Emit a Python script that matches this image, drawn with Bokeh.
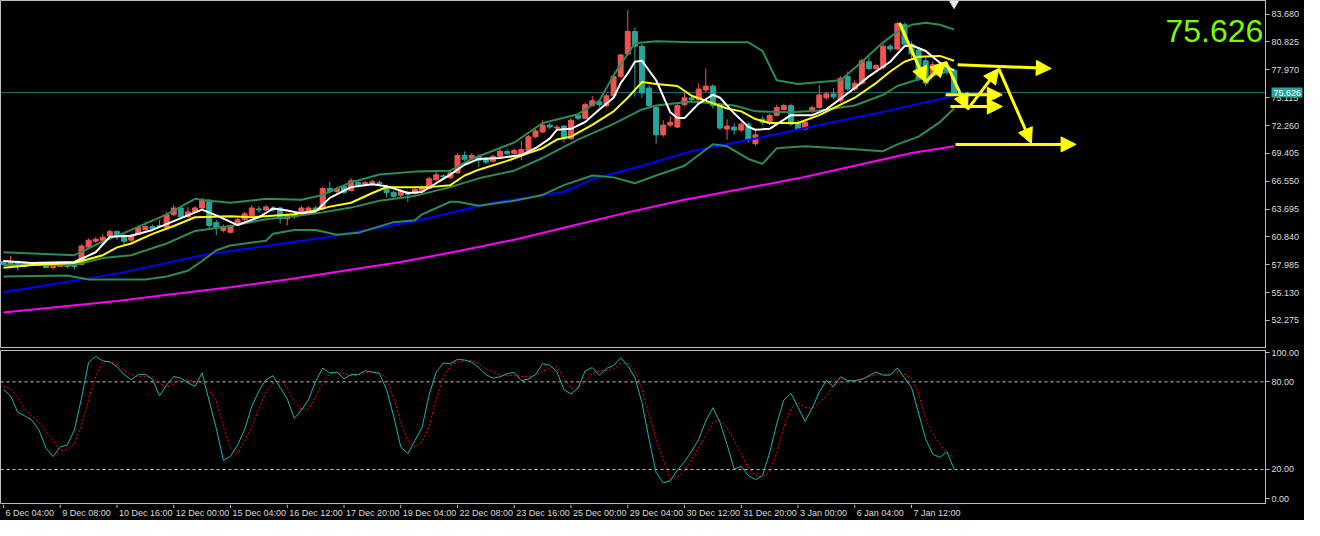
import numpy as np
from bokeh.plotting import figure
from bokeh.models import (Range1d, FixedTicker, NumeralTickFormatter, Span, Label,
                          Arrow, NormalHead, ColumnDataSource, LinearAxis)
from bokeh.layouts import column
from bokeh.embed import file_html
from bokeh.resources import INLINE
from bokeh.core.properties import value

# ---------------- data (H4 bars, index 0..134) ----------------
open_ = [58.3, 58.0, 58.3, 57.8, 58.1, 57.9, 58.1, 57.7, 57.8, 58.0,
         57.9, 58.0, 59.8, 60.4, 60.5, 60.9, 61.4, 61.0, 60.5, 61.1,
         61.6, 61.9, 62.0, 61.8, 63.1, 63.8, 62.9, 63.4, 63.8, 64.6,
         62.3, 61.5, 61.3, 62.1, 62.6, 63.0, 63.7, 63.6, 63.8, 63.8,
         62.7, 63.1, 63.3, 63.5, 63.8, 63.8, 65.8, 65.5, 66.0, 65.6,
         66.4, 66.2, 66.3, 66.4, 66.0, 65.4, 65.1, 65.4, 65.3, 65.6,
         65.8, 66.7, 67.1, 66.9, 67.4, 69.2, 68.9, 69.1, 68.9, 68.6,
         69.1, 69.6, 69.4, 69.3, 69.6, 71.1, 71.6, 72.3, 72.0, 72.2,
         70.9, 73.3, 73.0, 74.3, 74.7, 74.3, 75.3, 77.3, 79.6, 81.9,
         80.4, 76.1, 74.1, 71.3, 72.3, 72.1, 74.4, 75.1, 74.9, 75.9,
         76.3, 74.3, 71.9, 72.1, 71.8, 72.4, 70.4, 72.9, 72.5, 73.3,
         73.9, 74.3, 72.6, 71.9, 73.7, 74.1, 75.1, 75.5, 74.8, 77.3,
         76.0, 76.6, 78.8, 78.1, 78.2, 80.4, 80.1, 82.6, 80.6, 80.0,
         78.9, 77.4, 77.7, 78.3, 77.9]
high = [58.5, 58.9, 58.4, 58.2, 58.3, 58.3, 58.2, 57.9, 58.1, 58.1,
        58.1, 60.1, 60.7, 60.8, 61.1, 61.6, 61.5, 61.1, 61.1, 62.0,
        62.4, 62.1, 62.6, 63.4, 64.1, 63.9, 63.9, 64.0, 64.8, 64.7,
        62.6, 62.1, 62.1, 62.8, 63.4, 64.1, 64.0, 64.1, 64.0, 63.9,
        63.2, 63.3, 64.0, 64.0, 64.0, 66.0, 66.5, 66.0, 66.1, 66.9,
        66.6, 66.6, 66.7, 66.6, 66.2, 65.6, 65.7, 65.6, 65.9, 66.1,
        67.0, 67.6, 67.3, 67.6, 69.4, 69.6, 69.4, 69.3, 69.0, 69.3,
        69.9, 69.8, 69.9, 70.7, 71.3, 71.9, 72.8, 72.5, 72.3, 72.3,
        73.0, 73.5, 74.6, 75.3, 74.9, 75.5, 77.5, 79.6, 84.1, 82.3,
        80.6, 76.4, 74.4, 72.8, 73.2, 74.5, 75.6, 75.4, 76.6, 78.1,
        76.5, 74.5, 72.9, 72.5, 72.6, 72.6, 71.8, 73.2, 73.5, 74.4,
        74.5, 74.5, 72.8, 72.8, 74.3, 76.4, 75.7, 76.1, 77.3, 77.8,
        76.9, 79.1, 79.6, 78.6, 80.8, 80.6, 82.9, 82.8, 80.9, 80.2,
        79.2, 78.8, 78.6, 78.5, 78.1]
low = [57.9, 57.9, 57.4, 57.7, 57.9, 57.8, 57.6, 57.5, 57.7, 57.6,
       57.5, 57.9, 59.6, 60.2, 60.4, 60.8, 60.5, 60.0, 60.3, 61.0,
       61.5, 61.5, 61.8, 61.6, 63.0, 62.8, 62.8, 63.3, 63.7, 61.7,
       61.0, 61.3, 61.2, 62.0, 62.5, 62.9, 63.3, 63.5, 63.4, 62.2,
       62.0, 62.7, 63.2, 63.4, 63.4, 63.6, 65.3, 65.3, 65.2, 65.5,
       65.9, 66.0, 66.1, 66.1, 64.9, 64.8, 64.9, 64.4, 65.1, 65.5,
       65.7, 66.6, 66.8, 66.8, 67.3, 68.6, 68.7, 68.0, 68.3, 68.5,
       69.0, 69.2, 69.3, 68.7, 69.5, 71.0, 71.5, 71.9, 71.8, 70.5,
       70.8, 72.8, 72.9, 74.2, 74.1, 74.1, 75.2, 77.1, 79.4, 75.2,
       75.1, 74.0, 70.4, 71.1, 72.1, 72.0, 74.2, 74.6, 74.8, 75.7,
       74.0, 71.8, 70.8, 71.3, 71.6, 70.5, 70.2, 72.3, 72.3, 73.2,
       73.8, 72.2, 71.7, 71.8, 73.5, 74.0, 74.9, 75.0, 74.6, 75.8,
       75.8, 76.4, 77.9, 77.9, 78.0, 79.8, 80.0, 80.3, 79.2, 76.8,
       76.3, 77.2, 77.5, 77.5, 75.4]
close = [58.0, 58.3, 57.8, 58.1, 58.0, 58.1, 57.7, 57.8, 58.0, 57.8,
         57.8, 59.9, 60.5, 60.6, 60.8, 61.4, 60.9, 60.4, 61.0, 61.8,
         61.9, 61.7, 61.9, 63.1, 63.8, 62.9, 63.4, 63.8, 64.6, 62.0,
         61.8, 61.9, 62.0, 62.6, 63.2, 63.8, 63.6, 63.9, 63.6, 62.7,
         63.0, 62.9, 63.8, 63.8, 63.6, 65.8, 65.5, 65.8, 65.4, 66.6,
         66.1, 66.4, 66.5, 66.3, 65.4, 65.0, 65.5, 65.2, 65.7, 65.9,
         66.8, 67.2, 67.0, 67.4, 69.2, 68.8, 69.2, 68.7, 68.5, 69.1,
         69.6, 69.4, 69.7, 69.8, 71.1, 71.7, 72.3, 72.1, 72.1, 70.9,
         72.8, 73.0, 74.4, 74.8, 74.4, 75.3, 77.3, 79.5, 81.9, 80.4,
         75.6, 74.3, 71.3, 72.3, 72.6, 74.3, 75.1, 74.9, 76.0, 76.3,
         74.3, 72.0, 72.2, 71.8, 72.4, 70.8, 71.3, 72.6, 73.3, 74.1,
         74.3, 72.4, 71.9, 72.6, 74.1, 75.4, 75.5, 75.2, 77.1, 76.0,
         76.6, 78.9, 78.1, 78.4, 80.4, 80.1, 82.7, 80.6, 79.6, 77.0,
         76.6, 78.5, 78.3, 77.8, 75.626]

# moving averages / bands (bar index, price)
white_i = [0, 4, 10, 13, 15, 18, 21, 24, 28, 30, 33, 36, 38, 40, 42, 44, 46, 49, 52, 54,
           57, 59, 61, 63, 65, 67, 70, 73, 75, 77, 78, 80, 82, 84, 86, 87, 88, 89, 90, 92,
           94, 95, 96, 98, 100, 101, 103, 105, 106, 108, 111, 114, 116, 120, 122, 125, 127,
           128, 130, 132, 134]
white_v = [58.36, 58.16, 58.26, 59.26, 60.85, 60.95, 61.55, 62.45, 63.64, 63.05,
           62.05, 62.85, 63.74, 63.55, 63.25, 63.45, 64.84, 65.94, 66.24, 66.04,
           65.34, 65.44, 66.34, 67.23, 68.23, 68.83, 68.93, 69.23, 69.93, 70.92,
           71.82, 71.92, 72.62, 73.91, 75.11, 76.61, 77.60, 78.80, 78.90, 76.90,
           73.61, 73.02, 73.02, 74.51, 75.41, 75.11, 73.51, 72.12, 71.82, 71.92,
           73.32, 73.32, 73.91, 76.11, 77.30, 78.80, 80.39, 80.49, 79.90, 78.70, 77.90]
yellow_i = [0, 4, 10, 14, 16, 18, 21, 24, 27, 32, 35, 41, 44, 46, 49, 52, 54, 60, 63, 65,
            67, 71, 74, 76, 78, 80, 83, 86, 88, 90, 92, 95, 97, 99, 102, 104, 106, 108,
            112, 115, 120, 123, 125, 127, 129, 132, 134]
yellow_v = [57.66, 57.96, 58.16, 58.96, 59.76, 60.16, 61.15, 61.95, 62.85, 62.95,
            62.85, 63.15, 63.55, 63.94, 64.34, 65.34, 65.94, 65.94, 66.14, 67.13,
            67.73, 68.63, 69.43, 69.93, 70.82, 71.12, 72.32, 73.71, 75.11, 76.71,
            76.51, 76.31, 75.31, 74.81, 74.01, 73.71, 72.92, 72.52, 72.52, 73.32,
            75.11, 76.61, 77.80, 78.80, 79.30, 79.40, 78.90]
bb_up_i = [0, 10, 14, 18, 23, 27, 29, 32, 37, 42, 45, 49, 53, 58, 63, 66, 72, 76, 81, 84,
           86, 89, 92, 97, 105, 107, 109, 112, 118, 121, 124, 126, 128, 130, 132, 134]
bb_up_v = [59.26, 58.96, 60.35, 61.55, 63.15, 64.74, 64.54, 64.34, 64.74, 64.64,
           65.14, 66.44, 67.23, 67.53, 67.63, 68.83, 70.52, 72.52, 73.42, 74.81,
           77.40, 80.69, 80.89, 80.79, 80.79, 79.90, 76.90, 76.51, 76.90, 78.80,
           80.79, 81.89, 82.59, 82.79, 82.59, 82.09]
bb_mid_i = [0, 10, 14, 18, 23, 27, 32, 37, 41, 45, 49, 53, 58, 63, 67, 72, 76, 81, 86, 90,
            92, 97, 103, 106, 111, 115, 120, 124, 126, 129, 132, 134]
bb_mid_v = [57.96, 57.96, 58.66, 58.96, 60.16, 61.45, 61.95, 62.65, 62.95, 63.35,
            63.84, 64.54, 65.04, 65.94, 66.84, 67.63, 68.93, 70.82, 72.42, 73.91,
            74.31, 74.71, 74.31, 73.71, 73.61, 73.81, 74.31, 75.41, 76.31, 77.00,
            77.60, 77.90]
bb_low_i = [0, 9, 12, 20, 23, 26, 28, 30, 32, 37, 38, 41, 44, 47, 50, 55, 58, 59, 63, 64,
            67, 72, 76, 79, 83, 86, 89, 92, 96, 100, 102, 105, 107, 109, 113, 120, 124,
            126, 129, 132, 134]
bb_low_v = [56.77, 56.87, 56.47, 56.47, 56.77, 57.36, 58.36, 59.46, 59.96, 60.45,
            61.15, 61.55, 61.55, 61.05, 61.25, 62.35, 62.55, 63.15, 64.44, 64.44,
            64.04, 64.54, 65.14, 66.14, 67.13, 66.94, 66.34, 67.13, 68.13, 70.33,
            70.13, 68.83, 68.33, 69.93, 70.13, 69.83, 69.63, 70.33, 71.12, 72.61, 74.01]
blue_i = [0, 16, 28, 45, 58, 69, 79, 83, 90, 97, 106, 115, 125, 134]
blue_v = [55.17, 57.07, 58.96, 60.75, 62.45, 64.34, 65.44, 66.74, 68.13, 69.63,
          70.92, 72.32, 73.81, 75.31]
magenta_i = [0, 8, 16, 24, 32, 40, 48, 56, 64, 72, 80, 88, 96, 104, 112, 120, 128, 134]
magenta_v = [53.08, 53.67, 54.27, 54.97, 55.67, 56.47, 57.36, 58.26, 59.36, 60.55,
             61.95, 63.35, 64.64, 65.74, 66.84, 68.13, 69.43, 70.13]

# stochastic %K and %D
stoch_k = [74.6, 70.4, 59.2, 56.7, 53.8, 47.1, 34.6, 28.8, 35.6, 36.7,
           47.1, 69.0, 93.3, 97.5, 94.4, 93.7, 90.4, 85.0, 81.5, 85.0,
           85.2, 81.9, 70.4, 77.9, 83.7, 82.5, 79.4, 76.9, 86.2, 66.9,
           48.1, 26.2, 29.0, 36.7, 47.5, 63.3, 73.7, 81.5, 84.2, 76.2,
           68.3, 55.0, 60.6, 67.9, 80.4, 89.4, 86.2, 86.7, 82.1, 85.0,
           85.0, 87.7, 86.7, 85.8, 74.6, 56.5, 35.6, 30.8, 39.8, 48.7,
           71.0, 86.7, 92.9, 92.5, 95.4, 95.0, 93.5, 89.8, 85.0, 82.5,
           83.5, 85.6, 86.5, 80.8, 81.9, 85.0, 92.5, 91.5, 87.1, 74.6,
           71.7, 75.8, 87.5, 89.8, 84.6, 89.2, 91.2, 96.5, 91.2, 82.9,
           65.8, 40.8, 17.9, 10.8, 12.3, 19.6, 25.2, 32.5, 40.6, 53.3,
           62.3, 52.3, 37.1, 20.4, 22.1, 15.8, 13.1, 15.8, 31.5, 51.2,
           67.5, 72.1, 62.7, 52.9, 62.1, 73.1, 80.8, 76.7, 83.5, 80.8,
           80.8, 81.7, 84.2, 86.7, 84.6, 84.6, 89.6, 82.9, 76.2, 58.5,
           40.8, 30.4, 28.3, 32.1, 20.4]
stoch_d = [77.3, 75.2, 69.0, 61.7, 56.5, 52.3, 46.0, 39.8, 32.9, 33.5,
           37.7, 50.2, 67.9, 83.5, 94.0, 94.0, 91.9, 87.7, 85.2, 83.5,
           83.9, 83.5, 79.4, 76.2, 78.7, 81.5, 81.5, 80.0, 79.4, 74.2,
           66.9, 49.2, 34.6, 30.8, 39.8, 49.2, 61.7, 73.1, 79.4, 81.5,
           76.2, 65.8, 61.2, 61.2, 70.0, 79.4, 85.6, 86.2, 85.6, 84.2,
           85.0, 86.2, 86.7, 86.2, 82.5, 69.0, 52.3, 39.8, 35.6, 38.7,
           49.2, 67.9, 83.5, 91.2, 93.5, 94.4, 94.6, 92.5, 88.7, 87.1,
           84.6, 84.2, 84.6, 83.7, 83.5, 84.6, 87.1, 89.8, 90.4, 82.9,
           75.6, 76.0, 80.4, 85.8, 87.5, 87.9, 88.7, 92.3, 92.9, 87.7,
           75.2, 57.5, 40.8, 26.2, 13.7, 14.8, 19.0, 27.3, 34.6, 42.9,
           52.3, 53.9, 48.7, 39.8, 30.4, 21.0, 15.8, 14.8, 18.3, 31.5,
           49.2, 61.7, 65.8, 62.7, 61.7, 65.8, 70.4, 77.9, 80.0, 80.4,
           81.0, 81.9, 83.5, 84.8, 85.4, 85.6, 86.7, 85.2, 82.5, 72.1,
           54.4, 45.0, 37.1, 31.5, 27.9]

price_ticks = [52.275, 55.130, 57.985, 60.840, 63.695, 66.550, 69.405,
               72.260, 75.115, 77.970, 80.825, 83.680]
stoch_ticks = [0, 20, 80, 100]
stoch_levels = [20, 80]
time_tick_idx = [0, 8, 16, 24, 32, 40, 48, 56, 64, 72, 80, 88, 96, 104, 112, 120, 128]
time_labels = ["6 Dec 04:00", "9 Dec 08:00", "10 Dec 16:00", "12 Dec 00:00",
               "15 Dec 04:00", "16 Dec 12:00", "17 Dec 20:00", "19 Dec 04:00",
               "22 Dec 08:00", "23 Dec 16:00", "25 Dec 00:00", "29 Dec 04:00",
               "30 Dec 12:00", "31 Dec 20:00", "3 Jan 00:00", "6 Jan 04:00",
               "7 Jan 12:00"]

# hand-drawn yellow arrows: (x0, y0, x1, y1) in (bar index, price)
arrows = [(126.3, 82.79, 130.0, 76.71),
          (130.0, 76.71, 132.8, 78.80),
          (132.8, 78.80, 135.9, 73.91),
          (135.9, 73.91, 140.3, 78.10),
          (140.3, 78.10, 144.9, 70.42),
          (134.5, 78.50, 147.7, 78.10),
          (132.8, 75.41, 140.8, 75.41),
          (133.5, 74.21, 140.8, 74.21),
          (134.2, 70.32, 151.2, 70.32)]

# ---------------- styling ----------------
RED = "#EF5350"
TEAL = "#26A69A"
BID = "#2AA5A0"
FRAME = "#BFBFBF"
LABEL = "#DCDCDC"
FONT = "Liberation Sans"
W = 1304
RB = 38
X_MIN, X_MAX = -0.42, 177.9
Y_MIN, Y_MAX = 49.39, 85.08

o = np.array(open_)
h = np.array(high)
l = np.array(low)
c = np.array(close)
N = len(c)
idx = np.arange(N)
last = close[-1]

src = ColumnDataSource(dict(
    x=idx, top=np.maximum(o, c), bottom=np.minimum(o, c), high=h, low=l,
    color=np.where(c >= o, RED, TEAL)))

xr = Range1d(X_MIN, X_MAX)


def style_axis(ax, ticks, fmt):
    ax.ticker = FixedTicker(ticks=ticks)
    ax.formatter = NumeralTickFormatter(format=fmt)
    ax.axis_line_color = FRAME
    ax.major_tick_line_color = FRAME
    ax.major_tick_out = 4
    ax.major_tick_in = 0
    ax.minor_tick_line_color = None
    ax.major_label_text_color = LABEL
    ax.major_label_text_font_size = "9px"
    ax.major_label_text_font = FONT
    ax.major_label_standoff = 2


# ---------------- main price panel ----------------
p = figure(width=W, height=348, x_range=xr, y_range=Range1d(Y_MIN, Y_MAX),
           output_backend="svg", toolbar_location=None,
           x_axis_location=None, y_axis_location="right",
           min_border_left=0, min_border_right=RB, min_border_top=0, min_border_bottom=0,
           background_fill_color="black", border_fill_color="black",
           outline_line_color=FRAME)
p.grid.visible = False
style_axis(p.yaxis[0], price_ticks, "0.000")

# current-price tag on the price scale: a second axis with one thick tick
bid_ax = LinearAxis(ticker=FixedTicker(ticks=[last]),
                    formatter=NumeralTickFormatter(format="0.000"),
                    axis_line_color=None, major_tick_line_color=BID,
                    major_tick_line_width=10, major_tick_in=31, major_tick_out=0,
                    minor_tick_line_color=None,
                    major_label_text_color="#FFFFFF", major_label_text_font_size="9px",
                    major_label_text_font=FONT, major_label_standoff=-29)
p.add_layout(bid_ax, "right")

p.add_layout(Span(location=last, dimension="width", line_color="#287878",
                  line_width=1, level="underlay"))

p.segment(x0="x", y0="low", x1="x", y1="high", line_color="color", line_width=1, source=src)
p.vbar(x="x", width=0.7, top="top", bottom="bottom", fill_color="color",
       line_color="color", line_width=1, source=src)

p.line(magenta_i, magenta_v, line_color="#FF00FF", line_width=2)
p.line(blue_i, blue_v, line_color="#0000FF", line_width=2)
for xs, ys in ((bb_up_i, bb_up_v), (bb_mid_i, bb_mid_v), (bb_low_i, bb_low_v)):
    p.line(xs, ys, line_color="#2E8B57", line_width=2)
p.line(yellow_i, yellow_v, line_color="#FFFF00", line_width=2)
p.line(white_i, white_v, line_color="#FFFFFF", line_width=2)

for x0, y0, x1, y1 in arrows:
    p.add_layout(Arrow(end=NormalHead(size=15, fill_color="#FFFF00", line_color="#FFFF00"),
                       x_start=x0, y_start=y0, x_end=x1, y_end=y1,
                       line_color="#FFFF00", line_width=3))

p.scatter(x=[N - 1], y=[Y_MAX - 0.3], marker="inverted_triangle", size=9,
          fill_color="#E6E6E6", line_color="#E6E6E6")

p.add_layout(Label(x=X_MAX - 0.3, y=82.0, text=f"{last:.3f}", text_align="right",
                   text_baseline="alphabetic", text_font=FONT, text_font_size="32px",
                   text_color="#7CFC00"))

# ---------------- stochastic panel ----------------
ps = figure(width=W, height=156, x_range=xr, y_range=Range1d(-4.0, 101.5),
            output_backend="svg", toolbar_location=None,
            x_axis_location=None, y_axis_location="right",
            min_border_left=0, min_border_right=RB, min_border_top=2, min_border_bottom=0,
            background_fill_color="black", border_fill_color="black",
            outline_line_color=FRAME)
ps.grid.visible = False
style_axis(ps.yaxis[0], stoch_ticks, "0.00")
for lv in stoch_levels:
    ps.add_layout(Span(location=lv, dimension="width", line_color="#C8C8C8",
                       line_dash="3 3", line_width=1, level="underlay"))
ps.line(idx, stoch_d, line_color="#FF0000", line_width=1, line_dash="2 2")
ps.line(idx, stoch_k, line_color="#20B2AA", line_width=1)

# ---------------- time axis strip ----------------
pl = figure(width=W, height=16, x_range=xr, y_range=Range1d(0, 16),
            output_backend="svg", toolbar_location=None,
            x_axis_location=None, y_axis_location=None,
            min_border_left=0, min_border_right=RB, min_border_top=0, min_border_bottom=0,
            background_fill_color="black", border_fill_color="black",
            outline_line_color=None)
pl.grid.visible = False
pl.segment(x0=time_tick_idx, y0=16, x1=time_tick_idx, y1=12.5, line_color=FRAME, line_width=1)
pl.text(x=time_tick_idx, y=7.5, text=time_labels, x_offset=2,
        text_font=value(FONT), text_font_size=value("9px"), text_color=LABEL,
        text_align="left", text_baseline="middle")

layout = column(p, ps, pl, spacing=0)
layout.styles = {"background-color": "black"}

open("out.html", "w").write(file_html(layout, INLINE))
